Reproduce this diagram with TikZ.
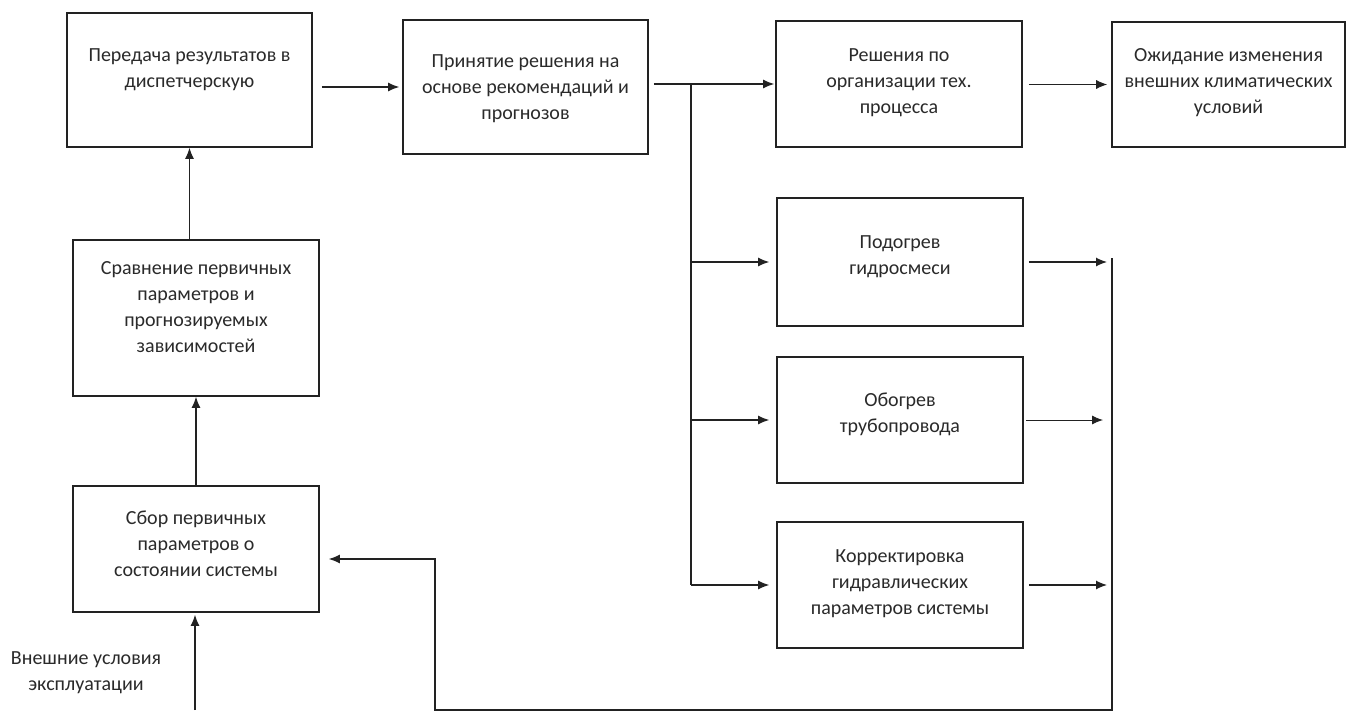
\documentclass[tikz,border=0pt]{standalone}
\usepackage{fontspec}
\setmainfont{Carlito}
\usetikzlibrary{arrows.meta}
\definecolor{ink}{HTML}{222222}
\definecolor{txtc}{HTML}{2A2A2A}
\tikzset{
  box/.style={draw=ink, line width=1.6pt, rectangle, inner sep=0pt},
  txt/.style={text=txtc, align=center, font=\fontsize{20}{26}\selectfont, inner sep=0pt},
  conn/.style={draw=ink, line width=1.2pt},
  arr/.style={conn, -{Latex[length=11pt,width=9pt]}},
}
\begin{document}
\begin{tikzpicture}[x=1pt,y=-1pt]
\useasboundingbox[fill=white] (0,0) rectangle (1347,712);

% boxes
\node[box, minimum width=245, minimum height=134] (b1) at (189.5,80) {};
\node[txt] (t1) at (189.5,70) {Передача результатов в\\диспетчерскую};

\node[box, minimum width=245, minimum height=134] (b2) at (525.5,87) {};
\node[txt] (t2) at (525.5,89) {Принятие решения на\\основе рекомендаций и\\прогнозов};

\node[box, minimum width=246, minimum height=126] (b3) at (899,84) {};
\node[txt] (t3) at (899,82.5) {Решения по\\организации тех.\\процесса};

\node[box, minimum width=233, minimum height=125] (b4) at (1228.5,84.5) {};
\node[txt] (t4) at (1228.5,82.5) {Ожидание изменения\\внешних климатических\\условий};

\node[box, minimum width=246, minimum height=128] (b5) at (900,262) {};
\node[txt] (t5) at (900,257) {Подогрев\\гидросмеси};

\node[box, minimum width=246, minimum height=126] (b6) at (900,420) {};
\node[txt] (t6) at (900,414.5) {Обогрев\\трубопровода};

\node[box, minimum width=246, minimum height=126] (b7) at (900,585) {};
\node[txt] (t7) at (900,583.5) {Корректировка\\гидравлических\\параметров системы};

\node[box, minimum width=246, minimum height=156] (bS) at (196,318) {};
\node[txt] (tS) at (196,307.5) {Сравнение первичных\\параметров и\\прогнозируемых\\зависимостей};

\node[box, minimum width=246, minimum height=126] (bC) at (196,549) {};
\node[txt] (tC) at (196,543.5) {Сбор первичных\\параметров о\\состоянии системы};

\node[txt] (ext) at (86,672.5) {Внешние условия\\эксплуатации};

% coordinates for free ends / junctions
\coordinate (j) at (691,85);
\coordinate (rt) at (1112,258);
\coordinate (rb) at (1112,710);
\coordinate (lb) at (435,710);
\coordinate (lt) at (435,559);
\coordinate (ein) at (195,710);

% connectors
\draw[arr, shorten <=9pt, shorten >=3pt] (b1.east |- b2.west) -- (b2.west);
\draw[arr, shorten <=5pt, shorten >=1pt] (b2.east |- b3.west) -- (b3.west);
\draw[arr, line width=0.9pt, shorten <=6pt, shorten >=4pt] (b3.east |- b4.west) -- (b4.west);

\draw[conn] (j) -- (j |- b7.west);
\draw[arr, shorten >=7pt] (j |- b5.west) -- (b5.west);
\draw[arr, shorten >=7pt] (j |- b6.west) -- (b6.west);
\draw[arr, shorten >=7pt] (j |- b7.west) -- (b7.west);

\draw[arr, shorten <=5pt, shorten >=5pt] (b5.east) -- (b5.east -| rt);
\draw[arr, line width=0.9pt, shorten <=2pt, shorten >=9pt] (b6.east) -- (b6.east -| rt);
\draw[arr, shorten <=5pt, shorten >=5pt] (b7.east) -- (b7.east -| rt);

\draw[arr, shorten >=9pt] (rt) -- (rb) -- (lb) -- (lt) -- (lt -| bC.east);

\draw[arr, shorten >=2pt] (ein) -- (ein |- bC.south);
\draw[arr] (bC.north) -- (bS.south);
\draw[arr] (b1.south |- bS.north) -- (b1.south);
\end{tikzpicture}
\end{document}
